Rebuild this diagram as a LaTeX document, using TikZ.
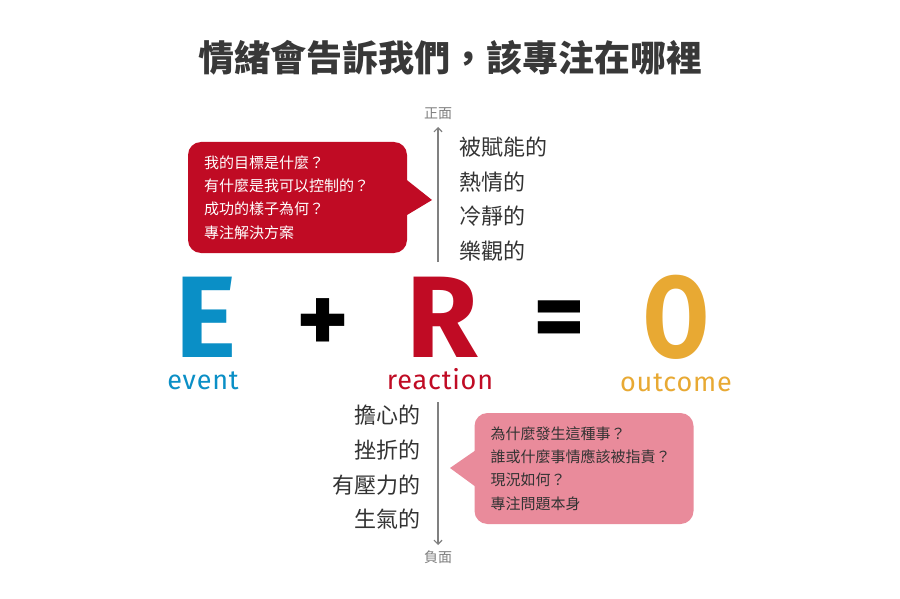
\documentclass[tikz,border=0pt]{standalone}
\usepackage{fontspec}
\usepackage{xcolor}
\setmainfont{Noto Sans CJK TC}
\newfontfamily\dinfont{Fira Sans}
\newfontfamily\dinlabel{Fira Sans}[LetterSpace=3]
\usetikzlibrary{positioning,arrows.meta}

\definecolor{titlegray}{HTML}{383838}
\definecolor{wordgray}{HTML}{333333}
\definecolor{axisgray}{HTML}{808080}
\definecolor{eblue}{HTML}{0A8FC6}
\definecolor{rred}{HTML}{C00B24}
\definecolor{oyellow}{HTML}{E8A933}
\definecolor{softpink}{HTML}{E98B9B}

\begin{document}
\begin{tikzpicture}[x=1pt, y=-1pt, node distance=117pt,
    letter/.style={font=\dinfont\bfseries\fontsize{116}{116}\selectfont, inner sep=0pt},
    sign/.style={font=\dinfont\bfseries\fontsize{100}{100}\selectfont, inner sep=0pt},
    tag/.style={font=\dinlabel\fontsize{27}{27}\selectfont, inner sep=0pt, anchor=base},
    callout/.style={rounded corners=13pt, minimum width=219pt, minimum height=111pt,
        text width=187pt, inner xsep=16pt, align=left, font=\fontsize{15}{23.3}\selectfont},
    words/.style={font=\fontsize{22}{34.7}\selectfont, text=wordgray, inner sep=0pt},
    pole/.style={font=\fontsize{14}{14}\selectfont, text=axisgray, inner sep=0pt},
    axis/.style={draw=axisgray, line width=1.2pt, -{Straight Barb[length=4pt,width=8pt]}}]

    \useasboundingbox[fill=white] (0,0) rectangle (900,599);

    % title
    \node[font=\fontsize{36}{40}\selectfont\bfseries, text=titlegray] (title) at (450,58) {情緒會告訴我們，該專注在哪裡};

    % E + R = O
    \node[letter, text=eblue] (E) at (206,317) {E};
    \node[sign, right of=E, yshift=-9pt] (plus) {+};
    \node[letter, text=rred, right of=E, node distance=236pt] (R) {R};
    \node[sign, right of=R, yshift=-9pt] (equal) {=};
    \node[letter, text=oyellow, right of=R, node distance=234pt] (O) {\scalebox{0.82}[1]{O}};

    \node[tag, text=eblue] (event) at ([xshift=-3pt, yshift=-32pt]E.south) {event};
    \node[tag, text=rred] (reaction) at ([xshift=-2pt, yshift=-32pt]R.south) {reaction};
    \node[tag, text=oyellow] (outcome) at ([yshift=-32pt]O.south) {outcome};

    % axis
    \coordinate (upFrom) at (438,262);
    \coordinate (upTo) at (438,127);
    \coordinate (downFrom) at (438,402);
    \coordinate (downTo) at (438,545);
    \draw[axis] (upFrom) -- (upTo);
    \draw[axis] (downFrom) -- (downTo);
    \node[pole, above=7pt of upTo] (positive) {正面};
    \node[pole, below=6pt of downTo] (negative) {負面};

    \node[words, anchor=west, align=left] (good) at (459,199) {被賦能的\\熱情的\\冷靜的\\樂觀的};
    \node[words, anchor=east, align=right] (bad) at (421,467.5) {擔心的\\挫折的\\有壓力的\\生氣的};

    % callouts
    \node[callout, fill=rred, text=white] (ask) at (297.5,197.5)
        {我的目標是什麼？\\有什麼是我可以控制的？\\成功的樣子為何？\\專注解決方案};
    \coordinate (askTip) at (432,200);
    \fill[rred] ([xshift=-1pt, yshift=18pt]ask.east) -- (askTip) -- ([xshift=-1pt, yshift=-18pt]ask.east) -- cycle;

    \node[callout, fill=softpink, text=wordgray] (why) at (584,468.5)
        {為什麼發生這種事？\\誰或什麼事情應該被指責？\\現況如何？\\專注問題本身};
    \coordinate (whyTip) at (450,468);
    \fill[softpink] ([xshift=1pt, yshift=18pt]why.west) -- (whyTip) -- ([xshift=1pt, yshift=-18pt]why.west) -- cycle;
\end{tikzpicture}
\end{document}
